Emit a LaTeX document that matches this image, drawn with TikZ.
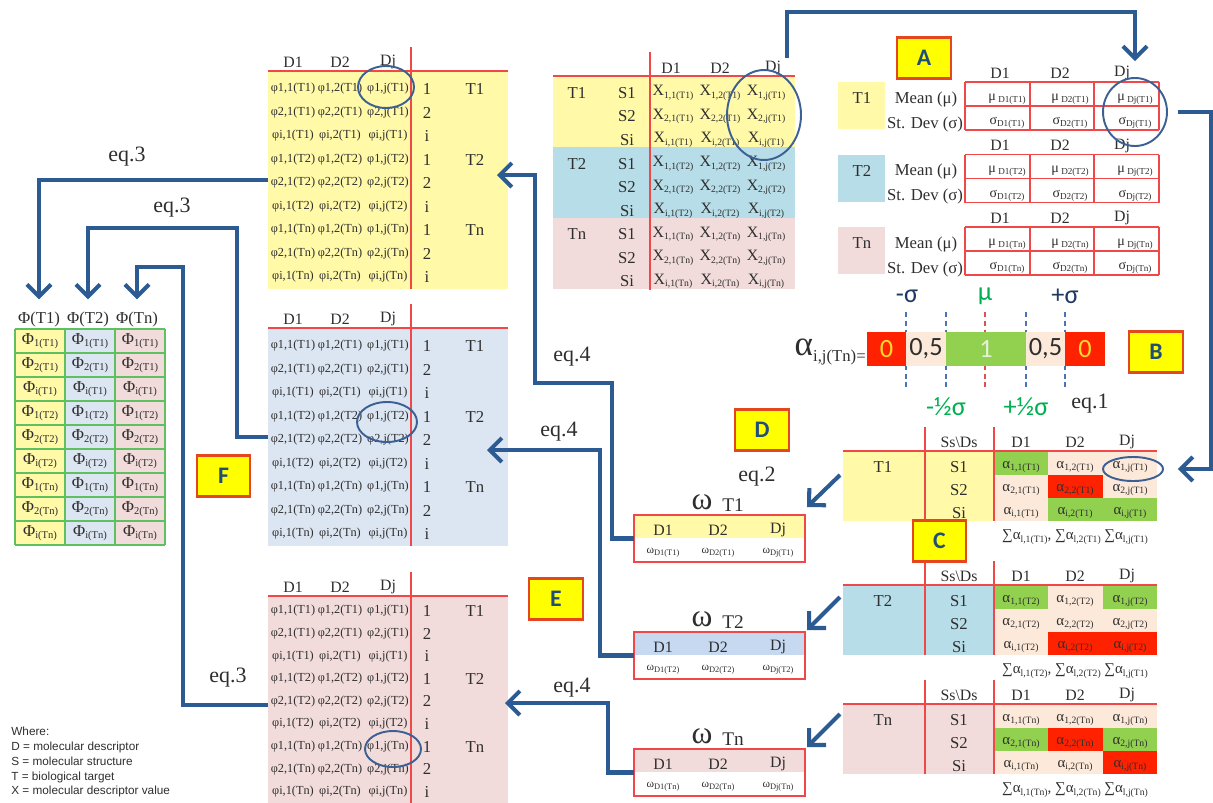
\documentclass[tikz,border=0pt]{standalone}
\usepackage{fontspec}
\setmainfont{Liberation Serif}
\newfontfamily\calibri{Carlito}
\newfontfamily\arialfont{Liberation Sans}
\usetikzlibrary{arrows.meta,positioning,calc,fit,shapes.geometric}
\definecolor{Yel}{HTML}{FFF9A8}
\definecolor{XBlue}{HTML}{B7DDE8}
\definecolor{PhiBlue}{HTML}{DCE6F2}
\definecolor{OmBlue}{HTML}{C6D9F1}
\definecolor{Pink}{HTML}{F2DCDB}
\definecolor{Bge}{HTML}{FDE9D9}
\definecolor{Grn}{HTML}{92D050}
\definecolor{Rd}{HTML}{FF2200}
\definecolor{GridRed}{HTML}{F04848}
\definecolor{GridGreen}{HTML}{5FC060}
\definecolor{Flow}{HTML}{2B5B92}
\definecolor{Ring}{HTML}{3C6094}
\definecolor{TagYel}{HTML}{FFFF00}
\definecolor{TagEdge}{HTML}{E4461E}
\definecolor{Letter}{HTML}{1F4E79}
\definecolor{Navy}{HTML}{1F3864}
\definecolor{MuGreen}{HTML}{00B050}
\definecolor{TickBlue}{HTML}{4A74B4}
\definecolor{MuRed}{HTML}{E05050}
\definecolor{ZeroYel}{HTML}{FFD92F}
\definecolor{OneWhite}{HTML}{E6F2D8}
\definecolor{Ink}{HTML}{2E2E2E}
\newcommand\fsz[1]{\fontsize{#1}{#1}\selectfont}
\newcommand\lowsub[2][5.5]{\raisebox{-.35ex}{\fsz{#1}#2}}
\tikzset{
  flow/.style={-{Straight Barb[length=2.4mm,width=4.8mm]},draw=Flow,line width=2.3pt},
  rline/.style={draw=GridRed,line width=.7pt},
  gline/.style={draw=GridGreen,line width=.7pt},
  ring/.style={ellipse,draw=Ring,line width=1.1pt,inner sep=0pt},
  letterbox/.style={draw=TagEdge,fill=TagYel,line width=1.2pt,minimum width=1.07cm,minimum height=.82cm,font=\calibri\bfseries\fsz{13.5},text=Letter},
  panel/.style={inner sep=0pt,outer sep=0pt},
  hd/.style={font=\fsz{9},text=Ink,inner sep=1pt},
  lab/.style={font=\fsz{9.5},text=Ink,inner sep=1pt},
  cell/.style={font=\fsz{7},text=Ink,inner sep=0pt},
  eqlab/.style={font=\fsz{12.5},text=Ink,inner sep=1pt},
  seg/.style={panel,minimum height=.68cm,font=\calibri\fsz{15}},
  sig/.style={font=\calibri\fsz{15},inner sep=1pt},
  vdash/.style={densely dashed,draw=TickBlue,line width=.9pt},
}
% phi table: name, top line, fill, first row offset, row step
\newcommand\phitab[5]{%
  \node[panel,fill=#3,fit={(268,#2) (508,#2+218)}] (#1) {};
  \draw[rline] (268,#2) -- (508,#2);
  \draw[rline] (411,#2-24) -- (411,#2+218);
  \foreach \h/\x in {D1/293,D2/340,Dj/388}
    \node[hd] (#1\h) at (\x,#2-9) {\h};
  \foreach \tg [count=\a from 0] in {T1,T2,Tn} {
    \node[lab] (#1\tg) at (475,#2+#4+3*#5*\a) {\tg};
    \foreach \rw [count=\b from 0] in {1,2,i} {
      \node[lab] (#1\tg\rw) at (427,#2+#4+3*#5*\a+#5*\b) {\rw};
      \foreach \cl/\x in {1/293,2/340,j/388}
        \node[cell] (#1\tg\rw\cl) at (\x,#2+#4+3*#5*\a+#5*\b) {φ\rw,\cl(\tg)};
    }
  }
}
% omega table: name, top, target, band
\newcommand\omtab[4]{%
  \node[panel,fill=#4,fit={(634,#2) (805,#2+23)}] (#1band) {};
  \node[panel,draw=GridRed,line width=.8pt,fit={(634,#2) (805,#2+47)}] (#1) {};
  \node[font=\fsz{18},text=Ink,inner sep=0pt] (#1w) at (702,#2-13) {ω};
  \node[font=\fsz{11},text=Ink,inner sep=0pt] (#1t) at (733,#2-10) {#3};
  \foreach \h/\x in {D1/663,D2/718,Dj/778} {
    \node[hd] (#1\h) at (\x,#2+15) {\h};
    \node[cell,font=\fsz{6.5}] (#1v\h) at (\x,#2+38) {ω\lowsub[4.8]{\h(#3)}};
  }
}
% alpha table: name, line y, target, fill, cell colours, sum row
\newcommand\ctab[6]{%
  \node[panel,fill=#4,fit={(843,#2) (994,#2+70)}] (#1) {};
  \foreach \col [count=\k from 0] in {#5} {
    \pgfmathtruncatemacro\rr{div(\k,3)}
    \pgfmathtruncatemacro\cc{mod(\k,3)}
    \fill[\col] (994+54.33*\cc,#2+1+23*\rr) rectangle ++(54.33,23);
  }
  \draw[rline] (843,#2) -- (1157,#2);
  \draw[rline] (925,#2-24) -- (925,#2+70);
  \draw[rline] (994,#2-24) -- (994,#2+70);
  \node[hd] (#1hs) at (959,#2-9) {Ss\textbackslash Ds};
  \node[lab] (#1t) at (883,#2+16) {#3};
  \foreach \h/\x in {D1/1021,D2/1075,Dj/1127} \node[hd] (#1\h) at (\x,#2-9) {\h};
  \foreach \rw [count=\b from 0] in {1,2,i} {
    \node[lab] (#1s\rw) at (959,#2+16+23*\b) {S\rw};
    \foreach \cl/\x in {1/1021,2/1075,j/1130}
      \node[cell,font=\fsz{8.5}] (#1a\rw\cl) at (\x,#2+16+23*\b) {α\lowsub{\rw,\cl(#3)}};
  }
  \node[cell,font=\fsz{8.5}] (#1sum) at (1075,#2+86) {#6};
}

\begin{document}
\begin{tikzpicture}[x=0.02cm,y=-0.02cm]
  \useasboundingbox (0,0) rectangle (1213,802);
  \clip (0,0) rectangle (1213,802);

  % phi tables
  \phitab{phiY}{71}{Yel}{18}{23.5}
  \phitab{phiB}{328}{PhiBlue}{18}{23.5}
  \phitab{phiP}{596}{Pink}{15}{22.6}

  % X table
  \foreach \tg/\col [count=\a from 0] in {T1/Yel,T2/XBlue,Tn/Pink}
    \node[panel,fill=\col,fit={(553,76+71*\a) (795,147+71*\a)}] (x\tg) {};
  \draw[rline] (553,76) -- (795,76);
  \draw[rline] (650,52) -- (650,290);
  \foreach \h/\x in {D1/671,D2/720,Dj/773} \node[hd] (xh\h) at (\x,68) {\h};
  \foreach \tg [count=\a from 0] in {T1,T2,Tn} {
    \node[lab] (xl\tg) at (577,93+70.7*\a) {\tg};
    \foreach \rw [count=\b from 0] in {1,2,i} {
      \node[lab] (xs\tg\rw) at (627,93+70.7*\a+23.5*\b) {S\rw};
      \foreach \cl/\x in {1/673,2/720,j/766}
        \node[cell,font=\fsz{9}] (x\tg\rw\cl) at (\x,93+70.7*\a+23.5*\b) {X\lowsub{\rw,\cl(\tg)}};
    }
  }

  % mean / st. dev tables
  \foreach \tg/\col [count=\a from 0] in {T1/Yel,T2/XBlue,Tn/Pink} {
    \node[panel,fill=\col,fit={(838,82+72.5*\a) (885,129+72.5*\a)}] (a\tg) {};
    \node[lab] (al\tg) at (862,98+72.5*\a) {\tg};
    \node[lab] (am\tg) at (926,99+72.5*\a) {Mean (μ)};
    \node[lab] (as\tg) at (925,124+72.5*\a) {St. Dev (σ)};
    \foreach \x in {965,1030,1094,1159} \draw[rline] (\x,82+72.5*\a) -- ++(0,48);
    \foreach \y in {0,24,48} \draw[rline] (965,82+72.5*\a+\y) -- ++(194,0);
    \foreach \h/\x/\xc in {D1/1000/1007,D2/1060/1070,Dj/1122/1135} {
      \node[hd] (ah\tg\h) at (\x,73+72.5*\a) {\h};
      \node[cell,font=\fsz{8}] (amu\tg\h) at (\xc,99+72.5*\a) {μ\,\lowsub[5.2]{\h(\tg)}};
      \node[cell,font=\fsz{8}] (asd\tg\h) at (\xc,123+72.5*\a) {σ\lowsub[5.2]{\h(\tg)}};
    }
  }

  % alpha scale
  \foreach \x in {906,946,1026,1065} \draw[vdash] (\x,312) -- (\x,387);
  \draw[vdash,draw=MuRed] (985,312) -- (985,387);
  \node[seg,fill=Rd,minimum width=.78cm,text=ZeroYel] (bar0) at (886.5,349) {0};
  \node[seg,fill=Bge,minimum width=.8cm,right=0pt of bar0,text=Ink] (bar1) {0,5};
  \node[seg,fill=Grn,minimum width=1.6cm,right=0pt of bar1,text=OneWhite] (bar2) {1};
  \node[seg,fill=Bge,minimum width=.78cm,right=0pt of bar2,text=Ink] (bar3) {0,5};
  \node[seg,fill=Rd,minimum width=.8cm,right=0pt of bar3,text=ZeroYel] (bar4) {0};
  \node[sig,text=Navy] (sgm) at (907,296) {-σ};
  \node[sig,text=MuGreen] (mu) at (985,296) {μ};
  \node[sig,text=Navy] (sgp) at (1065,296) {+σ};
  \node[sig,text=MuGreen] (hsm) at (946,407) {-½σ};
  \node[sig,text=MuGreen] (hsp) at (1026,407) {+½σ};
  \node[anchor=east,inner sep=0pt,text=Ink] (alab) at (866,352) {\fsz{20}α\lowsub[9.5]{i,j(Tn)=}};

  % alpha tables
  \ctab{cT1}{451}{T1}{Yel}{Grn,Bge,Bge,Bge,Rd,Bge,Bge,Grn,Grn}{∑α\lowsub{l,1(T1)}, ∑α\lowsub{l,2(T1)} ∑α\lowsub{l,j(T1)}}
  \ctab{cT2}{585}{T2}{XBlue}{Grn,Bge,Grn,Bge,Bge,Bge,Bge,Rd,Rd}{∑α\lowsub{l,1(T2)}, ∑α\lowsub{l,2(T2)} ∑α\lowsub{l,j(T1)}}
  \ctab{cTn}{704}{Tn}{Pink}{Bge,Bge,Bge,Grn,Rd,Grn,Bge,Bge,Rd}{∑α\lowsub{l,1(Tn)}, ∑α\lowsub{l,2(Tn)} ∑α\lowsub{l,j(Tn)}}

  % omega tables
  \omtab{omT1}{515}{T1}{Yel}
  \omtab{omT2}{632}{T2}{OmBlue}
  \omtab{omTn}{749}{Tn}{Pink}

  % Phi table
  \foreach \tg/\col [count=\a from 0] in {T1/Yel,T2/PhiBlue,Tn/Pink} {
    \node[panel,fill=\col,fit={(15+50*\a,329) (65+50*\a,545)}] (F\tg) {};
    \node[lab] (Fh\tg) at (39+49*\a,319) {Φ(\tg)};
  }
  \foreach \x in {15,65,115,165} \draw[gline] (\x,329) -- (\x,545);
  \foreach \y in {329,353,...,545} \draw[gline] (15,\y) -- (165,\y);
  \foreach \sb [count=\k from 0] in {1(T1),2(T1),i(T1),1(T2),2(T2),i(T2),1(Tn),2(Tn),i(Tn)}
    \foreach \a in {0,1,2}
      \node[cell,font=\fsz{9.5}] (F\k\a) at (40+50*\a,341+24*\k) {Φ\lowsub[6]{\sb}};

  % circles
  \node[ring,minimum width=1.12cm,minimum height=.84cm] (ringY) at (386,87) {};
  \node[ring,minimum width=1.48cm,minimum height=1.8cm] (ringX) at (764,115) {};
  \node[ring,minimum width=1.28cm,minimum height=1.36cm] (ringA) at (1135,112) {};
  \node[ring,minimum width=1.2cm,minimum height=.8cm] (ringB) at (387,422) {};
  \node[ring,minimum width=1.12cm,minimum height=.72cm] (ringP) at (393,749) {};
  \node[ring,minimum width=1.2cm,minimum height=.48cm] (ringC) at (1133,469) {};

  % letter boxes
  \node[letterbox] (boxA) at (924,58) {A};
  \node[letterbox] (boxB) at (1156,352) {B};
  \node[letterbox] (boxC) at (939.5,541) {C};
  \node[letterbox] (boxD) at (762,430) {D};
  \node[letterbox] (boxE) at (556,599) {E};
  \node[letterbox] (boxF) at (223.5,476) {F};

  % equation labels
  \node[eqlab] (eq1) at (1090,404) {eq.1};
  \node[eqlab] (eq2) at (757,477) {eq.2};
  \node[eqlab] (eq3a) at (127,157) {eq.3};
  \node[eqlab] (eq3b) at (172,208) {eq.3};
  \node[eqlab] (eq3c) at (228,678) {eq.3};
  \node[eqlab] (eq4a) at (572,357) {eq.4};
  \node[eqlab] (eq4b) at (559,432) {eq.4};
  \node[eqlab] (eq4c) at (572,688) {eq.4};

  \node[anchor=north west,align=left,inner sep=0pt,text=Ink,
        font=\arialfont\fontsize{6.7}{8.4}\selectfont] (legend) at (11,727) {%
    Where:\\D = molecular descriptor\\S = molecular structure\\T = biological target\\X = molecular descriptor value};

  % connectors
  \coordinate (xtop) at (787,58);
  \coordinate (inY) at (497,175);
  \coordinate (inB) at (487,450);
  \coordinate (inP) at (505,703);
  \draw[flow] (xtop) -- ++(0,-46) -| ([yshift=.32cm]ringA.north);
  \draw[flow] ([xshift=.2cm]ringA.east) -- ++(33,0) |- ([xshift=.28cm]ringC.east);
  \draw[flow] ($(cT1.north west)+(-3,24)$) -- ($(omT1.north east)+(2,-8)$);
  \draw[flow] ($(cT2.north west)+(-3,12)$) -- ($(omT2.north east)+(2,-2)$);
  \draw[flow] ($(cTn.north west)+(-3,10)$) -- ($(omTn.north east)+(2,-2)$);
  \draw[flow] (omT1.west) -| (612,383) -| (535,175) -- (inY);
  \draw[flow] (omT2.west) -| (600,450) -- (inB);
  \draw[flow] (omTn.west) -| (608,703) -- (inP);
  \draw[flow] (phiY.west) -| ([yshift=.2cm]FhT1.north);
  \draw[flow] (phiB.west) -| (237,228) -| ([yshift=.2cm]FhT2.north);
  \draw[flow] (phiP.west) -| (183,267) -| ([yshift=.2cm]FhTn.north);
\end{tikzpicture}
\end{document}
